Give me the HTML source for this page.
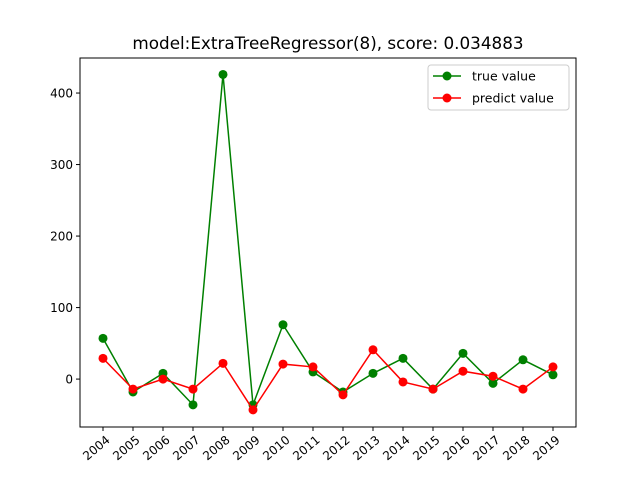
<!DOCTYPE html>
<html><head><meta charset="utf-8"><style>
body{margin:0;background:#fff}
svg{font-family:"DejaVu Sans","Liberation Sans",sans-serif}
</style></head><body>
<svg id="c" width="640" height="480" xmlns="http://www.w3.org/2000/svg">
<rect width="640" height="480" fill="#fff"/>
<text x="328" y="49" text-anchor="middle" font-size="16.8">model:ExtraTreeRegressor(8), score: 0.034883</text>
<g id="ax"></g>
</svg>
<script>
const years=[2004,2005,2006,2007,2008,2009,2010,2011,2012,2013,2014,2015,2016,2017,2018,2019];
const trueVals=[57,-18,8,-36,426,-36,76,10,-18,8,29,-14,36,-6,27,6];
const predVals=[29,-14,0,-14,22,-43,21,17,-22,41,-4,-14,11,4,-14,17];
const yTicks=[0,100,200,300,400];
const L=80,R=576,T=58,B=427,ymin=-67,ymax=449;
const NS="http://www.w3.org/2000/svg";
const g=document.getElementById('ax');
function X(i){return 103+i*(553-103)/(years.length-1);}
function Y(v){return B-(v-ymin)/(ymax-ymin)*(B-T);}
function el(t,a,p){const e=document.createElementNS(NS,t);for(const k in a)e.setAttribute(k,a[k]);(p||g).appendChild(e);return e;}
yTicks.forEach(v=>{
 const t=el('line',{x1:L-4,x2:L,y1:Y(v),y2:Y(v),stroke:'#000'});
 
 
 const tx=el('text',{x:L-7,y:Y(v)+4.5,'text-anchor':'end','font-size':'12'});
 tx.textContent=v;
 
 
});
years.forEach((yr,i)=>{
 const t=el('line',{x1:X(i),x2:X(i),y1:B,y2:B+4,stroke:'#000'});
 
 
 const tx=el('text',{x:0,y:0,'text-anchor':'middle','font-size':'12',transform:`translate(${X(i)-4},${B+24}) rotate(-40)`});
 tx.textContent=yr;
 
 
});
function series(vals,color,name){
 const p=el('polyline',{points:vals.map((v,i)=>X(i)+','+Y(v)).join(' '),fill:'none',stroke:color,'stroke-width':1.5});
 
 
 vals.forEach((v,i)=>{
  const c=el('circle',{cx:X(i),cy:Y(v),r:4.5,fill:color});
  
  
 });
}
series(trueVals,'#008000','true-value');
series(predVals,'#ff0000','predict-value');
const fr=el('rect',{x:L,y:T,width:R-L,height:B-T,fill:'none',stroke:'#000','stroke-width':1});


const lg=el('g',{});


el('rect',{x:428,y:65,width:141,height:45,rx:3,fill:'#fff',stroke:'#ccc'},lg);
[['true value','#008000',76],['predict value','#ff0000',98]].forEach(([lab,col,y])=>{
 el('line',{x1:433,x2:461,y1:y,y2:y,stroke:col,'stroke-width':1.5},lg);
 el('circle',{cx:447,cy:y,r:4.5,fill:col},lg);
 const t=el('text',{x:472,y:y+4.5,'font-size':'12.5'},lg);
 t.textContent=lab;
 
 
});
</script>
</body></html>
